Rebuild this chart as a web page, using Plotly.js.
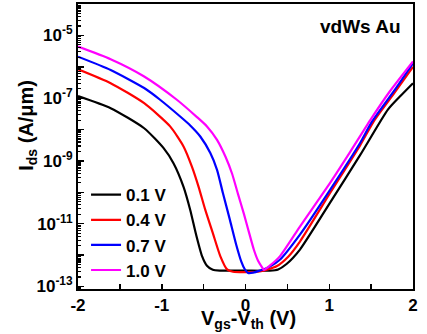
<!DOCTYPE html>
<html>
<head>
<meta charset="utf-8">
<script src="https://cdn.plot.ly/plotly-3.0.1.min.js"></script>
<style>html,body{margin:0;padding:0;background:#fff;}#chart{width:427px;height:334px;}</style>
</head>
<body>
<div id="chart"></div>
<script>
// ---- data ----
var seriesNames = ['0.1 V', '0.4 V', '0.7 V', '1.0 V'];

var vgs_01 = [-2, -1.61, -1.21, -0.98, -0.86, -0.74, -0.66, -0.59, -0.52, -0.46, -0.39, -0.30, 0.0, 0.29, 0.39, 0.49, 0.65, 1.01, 1.37, 1.70, 1.84, 2.0];
var ids_01 = [1.17e-7, 4.8e-8, 1.1e-8, 2.6e-9, 8.5e-10, 1.5e-10, 2.75e-11, 4.5e-12, 9.5e-13, 4.6e-13, 3.4e-13, 3.2e-13, 3.2e-13, 3.2e-13, 3.5e-13, 5.2e-13, 1.5e-12, 4.7e-11, 1.55e-9, 4.3e-8, 1.1e-7, 3.0e-7];

var vgs_04 = [-2, -1.61, -1.21, -0.90, -0.74, -0.64, -0.56, -0.48, -0.39, -0.30, -0.22, -0.15, 0.17, 0.37, 0.51, 0.65, 1.01, 1.37, 1.54, 1.78, 2.0];
var ids_04 = [8.3e-7, 3.0e-7, 6.9e-8, 1.26e-8, 2.9e-9, 6.6e-10, 1.5e-10, 2.75e-11, 5.0e-12, 9.1e-13, 3.5e-13, 2.95e-13, 3.0e-13, 4.4e-13, 8.9e-13, 2.7e-12, 9.5e-11, 3.2e-9, 2.0e-8, 1.5e-7, 1.0e-6];

var vgs_07 = [-2, -1.61, -1.21, -1.02, -0.78, -0.66, -0.54, -0.42, -0.34, -0.27, -0.19, -0.11, -0.05, -0.01, 0.03, 0.09, 0.17, 0.29, 0.41, 0.65, 1.01, 1.37, 1.51, 1.78, 2.0];
var ids_07 = [2.1e-6, 7.9e-7, 2.1e-7, 8.9e-8, 2.6e-8, 1.35e-8, 6.0e-9, 1.78e-9, 5.2e-10, 9.5e-11, 1.45e-11, 2.1e-12, 6.2e-13, 3.6e-13, 2.7e-13, 2.75e-13, 3.2e-13, 4.3e-13, 7.1e-13, 4.5e-12, 1.2e-10, 3.8e-9, 1.78e-8, 1.8e-7, 1.29e-6];

var vgs_10 = [-2, -1.61, -1.21, -0.82, -0.58, -0.46, -0.34, -0.24, -0.16, -0.09, -0.02, 0.04, 0.10, 0.15, 0.20, 0.22, 0.29, 0.41, 0.65, 1.01, 1.25, 1.49, 1.72, 2.0];
var ids_10 = [4.4e-6, 1.74e-6, 4.9e-7, 8.9e-8, 2.5e-8, 1.26e-8, 4.7e-9, 1.38e-9, 3.9e-10, 8.9e-11, 2.1e-11, 5.5e-12, 1.48e-12, 6.6e-13, 4.0e-13, 3.4e-13, 4.6e-13, 9.1e-13, 8.1e-12, 2.0e-10, 1.95e-9, 2.0e-8, 1.6e-7, 1.48e-6];

var xTickVals = [-2, -1, 0, 1, 2];
var xTickText = ['-2', '-1', '0', '1', '2'];
var xMinorVals = [-1.5, -0.5, 0.5, 1.5];
var yTickVals = [1e-13, 1e-11, 1e-9, 1e-7, 1e-5];
var yTickText = ['10<sup>-13</sup>', '10<sup>-11</sup>', '10<sup>-9</sup>', '10<sup>-7</sup>', '10<sup>-5</sup>'];
var yUnlabelledDecades = [1e-12, 1e-10, 1e-8, 1e-6, 1e-4];

// ---- build ----
var colors = ['#000000', '#ff0000', '#0000ff', '#ff00ff'];
var xs = [vgs_01, vgs_04, vgs_07, vgs_10];
var ys = [ids_01, ids_04, ids_07, ids_10];
var traces = [];
for (var i = 0; i < 4; i++) {
  traces.push({
    x: xs[i], y: ys[i], name: seriesNames[i], type: 'scatter', mode: 'lines',
    line: {color: colors[i], width: 2.2, shape: 'spline', smoothing: 0.6}
  });
}
var minorVals = [];
for (var e = -14; e <= -4; e++) {
  for (var m = 2; m <= 9; m++) minorVals.push(m * Math.pow(10, e));
}
var FONT = 'Liberation Sans, Arial, sans-serif';
var yRange = [-13.08, -4.0];
var layout = {
  width: 427, height: 334,
  margin: {l: 78, r: 14, t: 4, b: 44.5, pad: 0},
  paper_bgcolor: '#ffffff', plot_bgcolor: '#ffffff',
  font: {family: FONT, size: 17, color: '#000', weight: 'bold'},
  showlegend: true,
  legend: {x: 0.024, y: 0.3925, xanchor: 'left', yanchor: 'top', bgcolor: 'rgba(0,0,0,0)',
           font: {family: FONT, size: 17, color: '#000', weight: 'bold'}, tracegroupgap: 0},
  xaxis: {
    range: [-2, 2], showgrid: false, zeroline: false,
    showline: true, linecolor: '#000', linewidth: 2, mirror: true,
    ticks: 'inside', ticklen: 5, tickwidth: 1.5, tickcolor: '#000',
    tickmode: 'array', tickvals: xTickVals, ticktext: xTickText,
    tickfont: {family: FONT, size: 17, color: '#000', weight: 'bold'},
    minor: {tickmode: 'array', tickvals: xMinorVals, ticks: 'inside', ticklen: 5, tickwidth: 1.5, tickcolor: '#000', showgrid: false}
  },
  yaxis: {
    type: 'log', range: yRange, showgrid: false, zeroline: false,
    showline: true, linecolor: '#000', linewidth: 2, mirror: true,
    ticks: 'inside', ticklen: 6, tickwidth: 1.5, tickcolor: '#000',
    tickmode: 'array', tickvals: yTickVals, ticktext: yTickText,
    tickfont: {family: FONT, size: 17, color: '#000', weight: 'bold'},
    minor: {tickmode: 'array', tickvals: minorVals, ticks: 'inside', ticklen: 3, tickwidth: 1.2, tickcolor: '#000', showgrid: false}
  },
  yaxis2: {
    type: 'log', range: yRange, overlaying: 'y', side: 'left', anchor: 'x',
    showgrid: false, zeroline: false, showline: false, showticklabels: false,
    ticks: 'inside', ticklen: 6, tickwidth: 1.5, tickcolor: '#000',
    tickmode: 'array', tickvals: yUnlabelledDecades
  },
  annotations: [
    {text: 'vdWs Au', xref: 'paper', yref: 'paper', x: (360 - 78) / 335, y: (289.5 - 27) / 285.5,
     xanchor: 'center', yanchor: 'middle', showarrow: false,
     font: {family: FONT, size: 19, color: '#000', weight: 'bold'}},
    {text: 'I<sub>ds</sub> (A/\u03bcm)', xref: 'paper', yref: 'paper', x: (28 - 78) / 335, y: (289.5 - 126) / 285.5,
     xanchor: 'center', yanchor: 'middle', textangle: -90, showarrow: false,
     font: {family: FONT, size: 20, color: '#000', weight: 'bold'}},
    {text: 'V<sub>gs</sub>-V<sub>th</sub> (V)', xref: 'paper', yref: 'paper', x: (248 - 78) / 335, y: (289.5 - 320) / 285.5,
     xanchor: 'center', yanchor: 'middle', showarrow: false,
     font: {family: FONT, size: 20, color: '#000', weight: 'bold'}}
  ]
};
// an invisible trace keeps the second y axis (unlabelled decade ticks) drawn
traces.push({x: [], y: [], yaxis: 'y2', type: 'scatter', mode: 'lines', showlegend: false, hoverinfo: 'skip'});
Plotly.newPlot('chart', traces, layout, {displayModeBar: false, staticPlot: true});
</script>
</body>
</html>
